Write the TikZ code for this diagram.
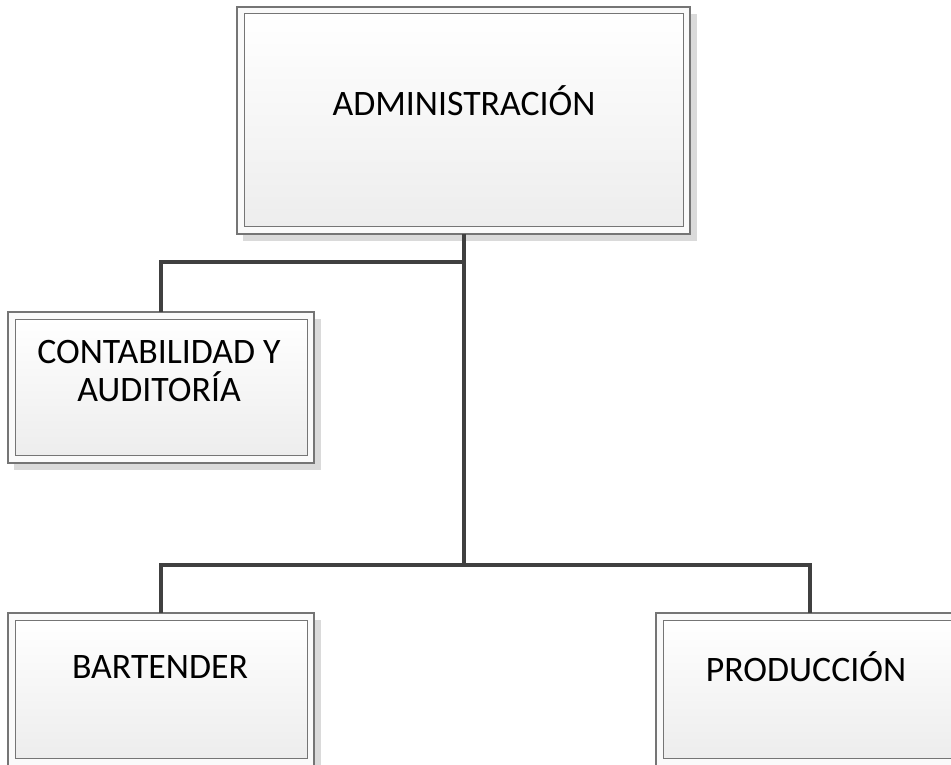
\documentclass[tikz,border=0pt]{standalone}
\usepackage{fontspec}
\setmainfont{Carlito}
\definecolor{framegray}{HTML}{757575}
\definecolor{linkgray}{HTML}{404040}
\definecolor{shadowgray}{HTML}{DADADA}
\definecolor{fillbottom}{HTML}{EDEDED}
\begin{document}
\begin{tikzpicture}[x=1pt,y=-1pt,
  outerbox/.style={draw=framegray, line width=1.2pt, fill=white!98!black,
    inner sep=0pt, outer sep=0pt},
  innerbox/.style={draw=framegray, line width=1pt, top color=white, bottom color=fillbottom},
  boxshadow/.style={fill=shadowgray},
  label/.style={font=\fontsize{35.8}{42}\selectfont, inner sep=0pt, align=center, text=black},
  link/.style={draw=linkgray, line width=4pt, line cap=butt, line join=miter}]
\useasboundingbox (0,0) rectangle (951,765);
\clip (0,0) rectangle (951,765);

% org box: name, x1, y1, x2, y2
\newcommand\orgbox[5]{%
  \fill[boxshadow] (#2+6,#3+7) rectangle (#4+7,#5+7);
  \node[outerbox, minimum width={(#4-#2)*1pt}, minimum height={(#5-#3)*1pt}]
    (#1) at ({(#2+#4)/2},{(#3+#5)/2}) {};
  \draw[innerbox] ([shift={(7,7)}]#1.north west) rectangle ([shift={(-7,-8)}]#1.south east);
}

\orgbox{admin}{237}{7}{690}{234}
\orgbox{conta}{8}{312}{314}{463}
\orgbox{bar}{8}{613}{314}{766}
\orgbox{prod}{656}{613}{963}{766}

\node[label] (admin-t) at (464,101) {ADMINISTRACIÓN};
\node[label] (conta-t) at (159,371) {CONTABILIDAD Y\\[-4pt]AUDITORÍA};
\node[label] (bar-t) at (160,667) {BARTENDER};
\node[label] (prod-t) at (806,667) {PRODUCCIÓN};

% connectors
\coordinate (j1) at (464,262);
\coordinate (j2) at (464,565);
\draw[link] (admin.south -| j1) -- (j2);
\draw[link] ([xshift=-2pt]j1) -| (conta.north);
\draw[link] (bar.north) |- (j2) -| (prod.north);
\end{tikzpicture}
\end{document}
